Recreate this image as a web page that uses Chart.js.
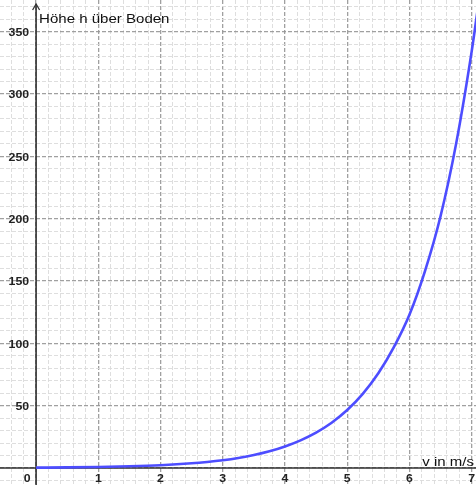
<!DOCTYPE html>
<html><head><meta charset="utf-8">
<script src="https://cdn.jsdelivr.net/npm/chart.js@4/dist/chart.umd.min.js"></script>
<style>html,body{margin:0;padding:0;background:#fff;overflow:hidden}</style>
</head><body>
<canvas id="c" width="476" height="485"></canvas>
<script>
// Data
const speeds  = [0, 0.5, 1, 1.5, 2, 2.5, 2.75, 3, 3.25, 3.5, 3.75, 4, 4.25, 4.5, 4.75, 5, 5.25, 5.5, 5.75, 6, 6.25, 6.5, 6.75, 7, 7.1];
const heights = [0.3, 0.5, 0.83, 1.4, 2.3, 3.8, 4.9, 6.3, 8.1, 10.4, 13.4, 17.3, 22.2, 28.4, 36.3, 46.5, 59.5, 76, 97, 123, 158, 202, 260, 334, 369];
const xTickLabels = [0, 1, 2, 3, 4, 5, 6, 7];
const yTickLabels = [50, 100, 150, 200, 250, 300, 350];
const yAxisTitle = 'Höhe h über Boden';
const xAxisTitle = 'v in m/s';

const points = speeds.map((v, i) => ({x: v, y: heights[i]}));

function stretchedText(ctx, txt, x, y, align, sx) {
  ctx.save();
  ctx.translate(x, y);
  ctx.scale(sx, 1);
  ctx.textAlign = align;
  ctx.fillText(txt, 0, 0);
  ctx.restore();
}

const axesPlugin = {
  id: 'axesPlugin',
  beforeDatasetsDraw(chart) {
    const ctx = chart.ctx;
    const xs = chart.scales.x, ys = chart.scales.y;
    const x0 = xs.getPixelForValue(0), y0 = ys.getPixelForValue(0);
    const W = chart.width, H = chart.height;
    ctx.save();
    ctx.strokeStyle = '#333';
    ctx.lineWidth = 1.6;
    ctx.setLineDash([]);
    ctx.beginPath();
    ctx.moveTo(0, y0); ctx.lineTo(W, y0);
    ctx.moveTo(x0, H); ctx.lineTo(x0, 4);
    ctx.stroke();
    ctx.lineWidth = 1.3;
    ctx.beginPath();
    ctx.moveTo(x0 - 3.5, 10); ctx.lineTo(x0, 4); ctx.lineTo(x0 + 3.5, 10);
    ctx.stroke();
    ctx.fillStyle = '#222';
    ctx.font = 'bold 11px "Liberation Sans", Arial, sans-serif';
    ctx.textBaseline = 'alphabetic';
    yTickLabels.forEach(v => {
      const py = ys.getPixelForValue(v);
      stretchedText(ctx, String(v), x0 - 7, py + 4.3, 'right', 1.12);
    });
    xTickLabels.forEach(v => {
      const px = xs.getPixelForValue(v);
      const lx = v === 0 ? px - 9 : px;
      stretchedText(ctx, String(v), lx, y0 + 14, 'center', 1.12);
    });
    ctx.fillStyle = '#111';
    ctx.font = '13.2px "Liberation Sans", Arial, sans-serif';
    stretchedText(ctx, yAxisTitle, x0 + 3, 23.3, 'left', 1.14);
    stretchedText(ctx, xAxisTitle, W - 2, y0 - 2.5, 'right', 1.14);
    ctx.restore();
  }
};

function gridTicks(min, max, step) {
  const out = [];
  const start = Math.ceil(min / step - 1e-9);
  for (let k = start; k * step <= max + 1e-9; k++) out.push({value: +(k * step).toFixed(6)});
  return out;
}
function isMajor(v, m) { return Math.abs(v / m - Math.round(v / m)) < 1e-6; }

new Chart(document.getElementById('c'), {
  type: 'scatter',
  data: {
    datasets: [{
      data: points,
      showLine: true,
      borderColor: 'rgb(77,77,255)',
      borderWidth: 2.6,
      pointRadius: 0,
      cubicInterpolationMode: 'monotone',
      fill: false
    }]
  },
  options: {
    responsive: false,
    animation: false,
    devicePixelRatio: 1,
    layout: {padding: 0},
    plugins: {legend: {display: false}, tooltip: {enabled: false}},
    scales: {
      x: {
        type: 'linear',
        min: -0.58, max: 7.07,
        afterBuildTicks: s => { s.ticks = gridTicks(-0.58, 7.07, 0.2); },
        ticks: {display: false},
        border: {display: false, dash: [4, 2]},
        grid: {
          drawTicks: false,
          color: c => isMajor(c.tick.value, 1) ? 'rgba(150,150,150,0.9)' : 'rgba(218,218,218,0.9)',
          lineWidth: c => isMajor(c.tick.value, 1) ? 1.3 : 1
        }
      },
      y: {
        type: 'linear',
        min: -13.6, max: 375.4,
        afterBuildTicks: s => { s.ticks = gridTicks(-13.6, 375.4, 10); },
        ticks: {display: false},
        border: {display: false, dash: [4, 2]},
        grid: {
          drawTicks: false,
          color: c => isMajor(c.tick.value, 50) ? 'rgba(150,150,150,0.9)' : 'rgba(218,218,218,0.9)',
          lineWidth: c => isMajor(c.tick.value, 50) ? 1.3 : 1
        }
      }
    }
  },
  plugins: [axesPlugin]
});
</script>
</body></html>
